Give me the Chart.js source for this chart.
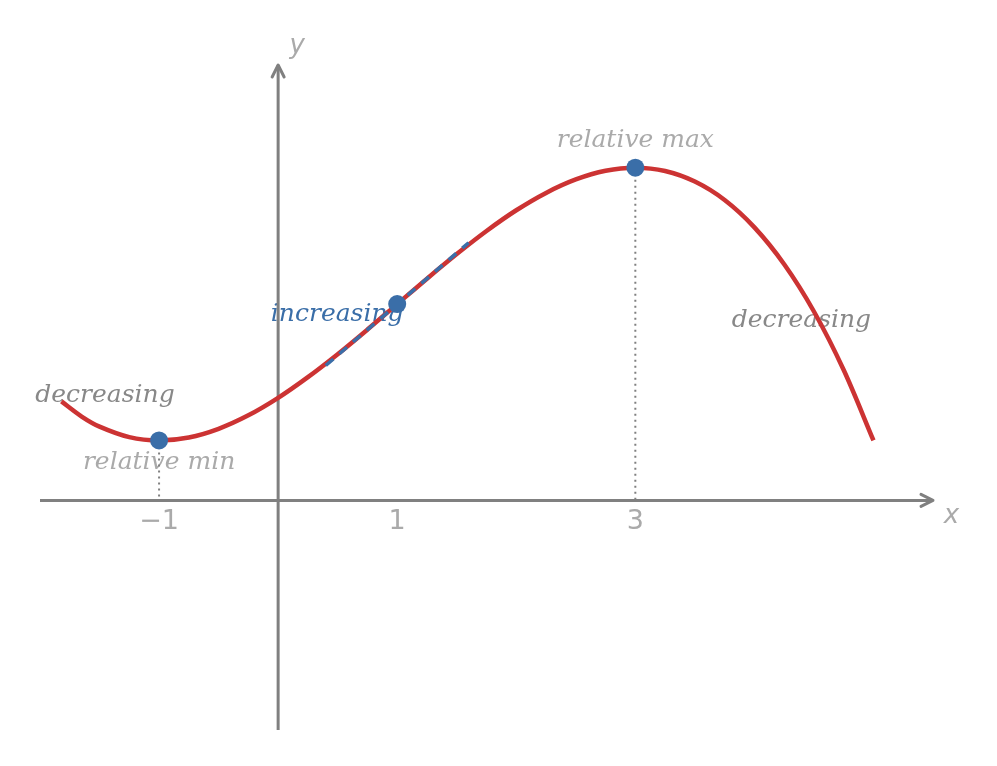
<!DOCTYPE html>
<html>
<head>
<meta charset="utf-8">
<script src="https://cdn.jsdelivr.net/npm/chart.js@4.4.1/dist/chart.umd.min.js"></script>
<style>
  html, body { margin: 0; padding: 0; background: #fff; }
  #chart { display: block; }
</style>
</head>
<body>
<canvas id="chart" width="997" height="766"></canvas>
<script>
// curve
var curveX = [-1.82, -1.65, -1.5, -1.25, -1, -0.75, -0.5, -0.25, 0, 0.25, 0.5, 0.75, 1, 1.25, 1.5, 1.75, 2,
              2.25, 2.5, 2.75, 3, 3.25, 3.5, 3.75, 4, 4.25, 4.5, 4.75, 5];
var curveY = [0.832, 0.705, 0.620, 0.532, 0.504, 0.529, 0.602, 0.715, 0.862, 1.036, 1.229, 1.436, 1.650, 1.864, 2.071,
              2.265, 2.439, 2.585, 2.698, 2.771, 2.797, 2.769, 2.680, 2.525, 2.295, 1.985, 1.588, 1.096, 0.504];

// tangent at the inflection point
var tangentX = [0.4, 1.6];
var tangentY = [1.134, 2.166];

// marked points: relative min, inflection, relative max
var markX = [-1, 1, 3];
var markY = [0.504, 1.650, 2.797];

var tickValues = [-1, 1, 3];
var tickLabels = ["\u22121", "1", "3"];

var xRange = [-2, 5.5];
var yRange = [-1.93, 3.66];

var RED = "#cc3333";
var BLUE = "#3a6ea8";
var AXIS = "#808080";

function pts(xs, ys) {
    var out = [];
    for (var i = 0; i < xs.length; i++) out.push({x: xs[i], y: ys[i]});
    return out;
}

// text + axis decorations
var decor = {
    id: "decor",
    beforeDatasetsDraw: function (chart) {
        var ctx = chart.ctx;
        var sx = chart.scales.x, sy = chart.scales.y;
        function px(v) { return sx.getPixelForValue(v); }
        function py(v) { return sy.getPixelForValue(v); }
        ctx.save();
        ctx.textAlign = "center";
        ctx.textBaseline = "middle";

        ctx.font = "italic 25px 'DejaVu Serif'";
        ctx.fillStyle = "#aaaaaa";
        ctx.fillText("relative max", px(3), py(3.025));
        ctx.fillText("relative min", px(-1), py(0.319));
        ctx.fillStyle = "#888888";
        ctx.fillText("decreasing", px(-1.454), py(0.882));
        ctx.fillText("decreasing", px(4.395), py(1.513));
        ctx.fillStyle = BLUE;
        ctx.fillText("increasing", px(0.496), py(1.563));

        // tick labels
        ctx.font = "27px 'DejaVu Sans'";
        ctx.fillStyle = "#aaaaaa";
        for (var i = 0; i < tickValues.length; i++) {
            ctx.fillText(tickLabels[i], px(tickValues[i]), py(0) + 22);
        }
        ctx.font = "italic 26px 'DejaVu Sans'";
        ctx.fillText("x", px(5.655), py(-0.134));
        ctx.fillText("y", px(0.16), py(3.815));
        ctx.restore();
    },
    afterDatasetsDraw: function (chart) {
        var ctx = chart.ctx;
        var sx = chart.scales.x, sy = chart.scales.y;
        var xe = sx.getPixelForValue(xRange[1]), y0 = sy.getPixelForValue(0);
        var x0 = sx.getPixelForValue(0), ye = sy.getPixelForValue(yRange[1]);
        ctx.save();
        ctx.strokeStyle = AXIS;
        ctx.lineWidth = 3;
        ctx.lineCap = "round";
        ctx.lineJoin = "round";
        ctx.beginPath();
        ctx.moveTo(xe - 12, y0 - 6); ctx.lineTo(xe, y0); ctx.lineTo(xe - 12, y0 + 6);
        ctx.moveTo(x0 - 6, ye + 12); ctx.lineTo(x0, ye); ctx.lineTo(x0 + 6, ye + 12);
        ctx.stroke();
        ctx.restore();
    }
};

var ctx = document.getElementById("chart").getContext("2d");
new Chart(ctx, {
    type: "scatter",
    data: {
        datasets: [
            {   // marked points, on top
                data: pts(markX, markY),
                showLine: false,
                pointRadius: 9,
                pointBackgroundColor: BLUE,
                pointBorderWidth: 0,
                order: 0
            },
            {   // tangent
                data: pts(tangentX, tangentY),
                showLine: true,
                borderColor: BLUE,
                borderWidth: 3.5,
                borderDash: [10, 8],
                pointRadius: 0,
                order: 1
            },
            {   // the curve
                data: pts(curveX, curveY),
                showLine: true,
                borderColor: RED,
                borderWidth: 4.5,
                tension: 0.33,
                pointRadius: 0,
                order: 2
            },
            {   // drop line at min
                data: pts([markX[0], markX[0]], [markY[0], 0]),
                showLine: true,
                borderColor: AXIS,
                borderWidth: 2,
                borderDash: [2, 4],
                pointRadius: 0,
                order: 3
            },
            {   // drop line at max
                data: pts([markX[2], markX[2]], [markY[2], 0]),
                showLine: true,
                borderColor: AXIS,
                borderWidth: 2,
                borderDash: [2, 4],
                pointRadius: 0,
                order: 3
            },
            {   // x axis
                data: pts(xRange, [0, 0]),
                showLine: true,
                borderColor: AXIS,
                borderWidth: 3,
                pointRadius: 0,
                order: 4
            },
            {   // y axis
                data: pts([0, 0], yRange),
                showLine: true,
                borderColor: AXIS,
                borderWidth: 3,
                pointRadius: 0,
                order: 4
            }
        ]
    },
    options: {
        responsive: false,
        animation: false,
        layout: { padding: { left: 40, right: 64, top: 65, bottom: 36 } },
        plugins: { legend: { display: false }, tooltip: { enabled: false } },
        scales: {
            x: { type: "linear", display: false, min: xRange[0], max: xRange[1] },
            y: { type: "linear", display: false, min: yRange[0], max: yRange[1] }
        },
        elements: { line: { borderCapStyle: "butt" } }
    },
    plugins: [decor]
});
</script>
</body>
</html>
